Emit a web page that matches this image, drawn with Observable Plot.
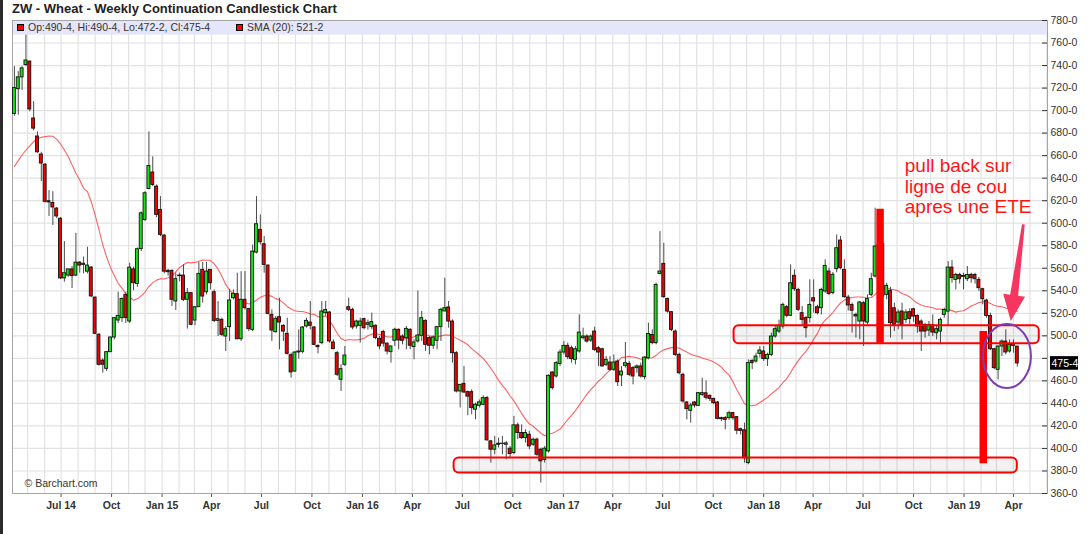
<!DOCTYPE html>
<html>
<head>
<meta charset="utf-8">
<script src="https://cdn.jsdelivr.net/npm/d3@7"></script>
<script src="https://cdn.jsdelivr.net/npm/@observablehq/plot@0.6"></script>
<style>
html,body{margin:0;padding:0;background:#fff;}
#wrap{position:relative;width:1089px;height:534px;overflow:hidden;font-family:"Liberation Sans",Arial,sans-serif;}
#chart{position:absolute;left:0;top:0;}
#title{position:absolute;left:12px;top:2px;font-weight:bold;font-size:13px;line-height:13px;color:#222;white-space:nowrap;}
.leg{position:absolute;top:21px;font-size:10.5px;line-height:12px;color:#333;display:flex;align-items:center;white-space:nowrap;}
.sq{width:5px;height:5px;background:#f00;border:1px solid #000;margin-right:4px;}
#edge{position:absolute;left:0;top:0;width:3px;height:534px;background:#2b2b2b;}
</style>
</head>
<body>
<div id="wrap">
  <div id="chart"></div>
  <div id="title"></div>
  <div class="leg" id="leg1" style="left:17px"><span class="sq"></span><span class="txt"></span></div>
  <div class="leg" id="leg2" style="left:236px"><span class="sq"></span><span class="txt"></span></div>
  <div id="edge"></div>
</div>
<script>
// ---------------- data (weekly candles, ZW wheat continuation) ----------------
const opens = [
697,719,729.5,740.5,743.5,693,677,661,652,619.5,
618,613,604,551,553.5,559,553.5,565,563,557,
560.6,534,501,478,470.7,485.5,498.5,513.6,515.7,536.4,
512.7,559,546,577,602.9,630.4,645,632.5,611.8,589,
557.7,557.7,530.5,553.5,553.5,532,537.9,513.6,525.4,558.6,
538.7,558.6,538.7,513.3,514.2,499.4,507.7,533.4,537,497,
532,523.7,505.3,573.9,594.1,581.3,562.4,518.6,503.2,516.6,
508.9,501.8,482.8,468.3,485.2,485.8,508.3,511.8,507.4,491.1,
493.5,520.1,520.7,494.1,484.6,461,474.3,525.4,523.1,508.3,
508.9,514.8,509.8,507.7,508.9,497.4,503.4,493.1,485.5,495.6,
505.4,499.4,497.9,505.4,490,495,500,513.3,498,491.2,
495.6,507.7,521.6,525.2,512.7,484.6,450.6,457.4,450,450,
434.4,437.9,438.8,444.7,406.3,398.9,404.2,404.2,403.3,399.8,
395.9,420.5,413.7,409.2,412.2,403.3,407.8,398.9,389.8,397.4,
467.4,463.9,475.1,485.2,491.1,489,478.7,486.1,497.9,499.4,
495.8,503.8,489,488.1,474.2,476.3,469.8,477.2,464.8,473.3,
475.1,471.3,471.3,472.8,463.3,480.1,500.8,493.5,555,563.9,
532.8,521,503.8,483.1,465.4,440.8,433.4,440.8,437.8,447.6,
449,446.7,444,440.8,426.9,426.9,426.9,431.4,427.8,417.1,
416.1,387,477.8,477.2,484,486.1,479.3,483.1,499.4,503.8,
508.3,525.4,517.8,553.3,540.8,520.1,515.7,515.7,533.4,525.4,
524.5,539.4,557.1,537.9,559.2,584.6,558.6,534,527.3,518.6,
512.7,529,511.8,536.4,552.7,579,581.4,536.4,540,524.5,
511.8,521.6,514.2,521,523.6,517.7,512.7,509.7,504.7,509.7,
502.3,503.8,518.6,521.5,560.6,549.7,554.1,553.2,550.3,554.1,
554.1,549.7,541.4,531.3,517.7,488.1,469.8,490.5,494.9,486.1,
492.9,490.5];
const highs = [
739,734.6,739,767,744,708,681,663,653,629,
628,614,605,583.7,559,561.5,591,566,570,578.7,
561.5,534.3,502,479.5,486,499,516,538.8,533.4,538.8,
564.5,561,578,610,628,681,659,634,623.6,590,
559,558.6,555.6,555.6,563,542,538.4,526,565.1,565.1,
565.1,558.6,540.8,530.5,515.7,508.3,540.8,540.8,555.6,557,
557,524.5,580.7,623.6,607.4,588.1,563,523,517.2,533.4,
509.8,515.7,484.6,486.1,505.3,508.3,515.7,530.5,508.3,492,
530.5,530.5,521.6,496.5,486.1,474.3,490.5,533.4,524.5,514,
515.7,515.7,514,520.1,509.8,499.4,505,493.7,490.6,506.8,
506,500.9,508.3,506.2,496.5,539.7,521.6,514.2,499.4,500,
508.3,524.5,551.2,530.5,514.2,486.1,456.5,472.8,451,452.1,
440.3,443,446.8,446.2,407.2,410.7,409.2,410.7,406,401.8,
428.5,422.6,421,416.6,415.1,409.2,409.2,400.3,401.8,465.4,
468.3,477.2,487.6,495,493.5,491,490.5,518.6,506.8,500.9,
500.9,507.7,490.5,489,481.6,481.6,483.1,478.7,472.8,494.1,
477.2,472.8,474.2,475.7,481.6,511.2,505.3,546.7,592.5,582.2,
533.4,521.5,505.3,484.6,466.8,441.7,440.2,441.7,449.7,462.4,
460,447.6,444.6,441.7,427.8,428.4,433,432,428.4,418,
422.5,478.7,478.7,484.6,490.5,490.5,484.6,502.4,508.3,514,
529,527,563,558.6,542.3,526,517.2,549.7,549.7,527.2,
542.3,567.5,560.1,556.2,589.6,588.2,567.5,536,529,520.1,
530.5,530.5,536.4,555.6,613.3,588,583,546.7,543,529,
523,529,523,524,524.5,518.6,514.2,511.2,512.7,518.6,
508.3,515.7,524.5,565.9,566.8,555.6,555.6,555.6,561.5,555.6,
555.5,552,542.3,532.5,520.1,489,491.1,496.4,505.3,496.4,
496.4,490.5];
const lows = [
695,696,718,739,699,682,662,637,618,606,
598,604,550,547.6,552,542,552.6,555.6,555,555,
534,501.2,473,466.9,468.4,485,496.5,511,511.8,511,
511,540,543,575,601.5,629.5,632.5,605,588,555,
553,526,522.5,548,530.5,506,508.9,508.9,525.4,529,
536.4,540.8,511.8,499.4,499.4,486.1,495,531.9,496.4,495,
523,503.8,503.8,572.8,580.7,555.6,518.6,495,502.4,487.6,
495,483.1,462.4,467.5,479.3,484,506.8,505.3,491.1,484,
492,517.2,493.5,487.6,463.9,450.6,472.8,521.6,505.3,506,
493.5,505.3,505,505.4,496.5,487.6,490,483.1,475.8,490.6,
487.6,492,487.6,487.6,478.7,493.5,495,486.1,483.1,488,
487.6,495,521.6,506.8,475.8,449.2,435.9,448.6,429,430,
425.5,436,438,406.3,387,394.4,400.3,394.4,390,391.5,
394.4,407.8,407.8,404.8,398.9,401.8,393,369.3,387,395.9,
452,462.4,472.8,483.1,478.7,475.7,474.2,484.6,496.4,493.5,
494.1,486.1,472.8,472.2,472.8,468.3,468.3,455,455,471.3,
463.9,456.5,466.8,462.4,460.9,478.7,492,492,554.1,533.4,
520.1,503.8,481.6,465.4,440.2,425.4,422.5,435.8,437.2,446.1,
443,441.7,438.7,425.4,423.9,416.5,425,425,412.2,412,
387,385.5,470,475.7,480.2,477.2,472.8,481.6,498,502,
506,516,517,539.4,521.6,508.3,498,511.2,520.1,518.6,
518.6,537.8,535.8,536.4,556,558.6,533.4,522,502.4,498,
496.5,490.5,508.3,534.9,551.2,570,533,532,498,503.8,
505.3,496.4,511.2,510,512,502.3,486.1,497.9,499.4,499.4,
496.4,492,515.7,508.3,546.7,540.8,546,540.8,548.2,546.7,
546,539.3,527.5,515.7,486.9,469.8,460.9,481.6,483.1,484.6,
484.6,472.25];
const closes = [
720,729.5,737.5,744.5,701,684,663,653,619,618.5,
614,606,551,555.6,559,553,565,562.4,564,562.4,
535,501.8,474.3,474.3,485.5,498.5,515.7,517.7,532.8,515.7,
560.6,546.7,576.9,608.8,626.6,650.8,634,607.4,589.6,557,
556.5,532,550.3,553,532,537.9,509.8,525.4,555,534.9,
557.1,546.7,513.3,514.8,500.9,505.9,531.4,537.3,497,532,
524.5,505.9,574.8,599.1,583.1,563,519.5,504.7,515.1,511.8,
503.8,484,467.5,485.2,486.1,507.4,513.3,508.9,492,489.9,
521.6,523,495,488.2,465.4,470.4,482.5,523.1,507.4,512.7,
512.7,506.8,511.2,512.2,498,490.6,493.1,486.1,490.6,505.4,
495.9,495.6,506.2,491.2,494.1,500.3,515.7,492,491.2,498.5,
507.7,523.1,524.5,512.7,484.6,450.6,456.5,449.7,446,435.8,
438.8,440.9,444.7,407.2,398.9,402.7,403.3,404,404.5,395,
420.5,413.7,409.2,413.7,401.8,407.8,394.4,388.5,399.8,464.5,
453.5,475.7,485.2,491.1,481,479.3,488.1,502.9,499.4,494.9,
499.4,487.5,485.2,472.8,478.7,469.8,476.3,458.8,468.3,475.7,
465.4,463.9,472.8,463.9,480.7,501.7,493.5,545.2,557.1,534.3,
521.5,505.3,483.1,466.8,441.7,434.9,438.1,438.1,449.1,449.1,
445,444,440.2,426.3,426,425.4,431.3,426.9,415.8,415.6,
391.4,475.8,475.7,481.6,487,479.3,483.1,499.4,505.9,508.9,
527.5,517.8,546.7,541.4,523.1,514.2,506.8,527.5,530.5,520.1,
540.8,562.1,537.3,554.2,577.8,560.1,534.3,527,522.3,517.2,
529.6,512.7,532.6,550.3,579.3,581,534.9,544.4,511.2,509.7,
520.7,509.7,520.7,515,517.1,508.3,503.8,503.8,509.7,502.9,
505.9,514.2,523,560.6,551.2,554.1,550.3,552.2,554.1,551.2,
550.3,542.3,532.5,517.7,488.1,471.3,490.5,494.9,485.2,492,
491.1,475.5];
// SMA(20) for the first 19 weeks (its history lies before the visible window)
const smaHead = [650.3,655.6,660.6,665,668.6,672.5,674.8,676.3,676.9,677.5,677.2,674.5,670.4,665,659.2,651.8,644.4,638.4,631];
const firstWeek = "2014-04-07";
const xDomain = ["2014-04-03T12:00Z","2019-06-02T00:00Z"];
const yTicks = [360,380,400,420,440,460,480,500,520,540,560,580,600,620,640,660,680,700,720,740,760,780];
const xTickDates = ["2014-07-01","2014-10-01","2015-01-01","2015-04-01","2015-07-01","2015-10-01","2016-01-01","2016-04-01","2016-07-01","2016-10-01","2017-01-01","2017-04-01","2017-07-01","2017-10-01","2018-01-01","2018-04-01","2018-07-01","2018-10-01","2019-01-01","2019-04-01"];
const xTickLabels = ["Jul 14","Oct","Jan 15","Apr","Jul","Oct","Jan 16","Apr","Jul","Oct","Jan 17","Apr","Jul","Oct","Jan 18","Apr","Jul","Oct","Jan 19","Apr"];
const titleText = "ZW - Wheat - Weekly Continuation Candlestick Chart";
const legendOHLC = "Op:490-4, Hi:490-4, Lo:472-2, Cl:475-4";
const legendSMA = "SMA (20): 521-2";
const lastPriceText = "475-4";
// annotations (in data space)
const zones = [
  {x1:"2016-06-16", x2:"2019-04-08", y1:378.1, y2:391.5},
  {x1:"2017-11-08", x2:"2019-05-18", y1:492.9, y2:508.9}
];
const bars = [
  {date:"2018-08-01", y1:493.5, y2:612.4},
  {date:"2019-02-05", y1:386.4, y2:503.8}
];
const ring = {date:"2019-03-21", price:481.6};
const pointer = {from:"2019-04-20", fromY:598.5, to:"2019-03-28", toY:512.7};
const note = {date:"2018-09-15", price:658, text:"pull back sur\nligne de cou\napres une ETE"};

// ---------------- build ----------------
const DAY = 864e5;
const t0 = Date.parse(firstWeek + "T00:00Z");
const day = s => new Date(s + "T00:00Z");
const candles = closes.map((c, i) => ({
  date: new Date(t0 + i * 7 * DAY), open: opens[i], high: highs[i], low: lows[i], close: c
}));
const sma = candles.map((d, i) => ({
  date: d.date,
  value: i < smaHead.length ? smaHead[i] : d3.mean(closes.slice(i - 19, i + 1))
}));
const xs = xDomain.map(s => new Date(s));
const monthGrid = d3.utcMonth.range(xs[0], xs[1]);
const xTicks = xTickDates.map(day);
const labelMap = new Map(xTicks.map((d, i) => [+d, xTickLabels[i]]));
const GREEN = "#19e019", RED = "#f20000";
const FONT = "Liberation Sans, Arial, sans-serif";
const tickLen = 9 * DAY; // inward tick marks on the price axis

const chart = Plot.plot({
  width: 1089, height: 534,
  marginLeft: 12, marginRight: 42, marginTop: 20, marginBottom: 41,
  style: {background: "transparent", fontFamily: FONT, fontSize: "10.5px", color: "#333"},
  x: {type: "utc", domain: xs, ticks: xTicks, tickFormat: d => labelMap.get(+d), tickSize: 4, tickPadding: 4.5, label: null},
  y: {domain: [360, 780], axis: "right", ticks: yTicks, tickFormat: d => d === 480 ? "" : d + "-0", tickSize: 0, tickPadding: 3, label: null},
  marks: [
    Plot.ruleX(monthGrid, {stroke: "#e2e2e2", strokeWidth: 1.2}),
    Plot.ruleY(yTicks, {stroke: "#e2e2e2", strokeWidth: 1.2}),
    Plot.rect([0], {x1: () => xs[0], x2: () => xs[1], y1: () => 767, y2: () => 780, fill: "#e6e6fa"}),
    Plot.frame({stroke: "#a5a5a5"}),
    Plot.ruleY(yTicks, {x1: () => new Date(+xs[1] - tickLen), x2: () => xs[1], stroke: "#333"}),
    Plot.line(sma, {x: "date", y: "value", stroke: "#ff3b3b", strokeOpacity: 0.8, strokeWidth: 1.1}),
    Plot.ruleX(candles, {x: "date", y1: "low", y2: "high", stroke: "#4a4a4a", strokeWidth: 1}),
    Plot.rect(candles, {
      x1: d => new Date(+d.date - 2.7 * DAY), x2: d => new Date(+d.date + 2.7 * DAY),
      y1: d => Math.min(d.open, d.close), y2: d => Math.max(d.open, d.close),
      fill: d => d.close >= d.open ? GREEN : RED, stroke: "#111", strokeWidth: 0.9
    }),
    Plot.rect(zones, {
      x1: d => day(d.x1), x2: d => day(d.x2), y1: "y1", y2: "y2",
      rx: 5, fill: "#000", fillOpacity: 0.05, stroke: "#ff0000", strokeWidth: 2
    }),
    Plot.ruleX(bars, {x: d => day(d.date), y1: "y1", y2: "y2", stroke: "#ff0000", strokeWidth: 7.5}),
    Plot.text([note], {
      x: d => day(d.date), y: "price", text: "text",
      textAnchor: "start", lineAnchor: "top", fontSize: 19, lineHeight: 1.08, fill: "#ff1414", fontFamily: FONT
    }),
    Plot.text(["© Barchart.com"], {frameAnchor: "bottom-left", dx: 12, dy: -7, lineAnchor: "bottom", textAnchor: "start", fontSize: 10.5, fill: "#333"})
  ]
});

// extra annotation shapes positioned through the chart's own scales
const sx = chart.scale("x"), sy = chart.scale("y");
const X = d => sx.apply(d), Y = v => sy.apply(v);
const svg = d3.select(chart.tagName.toLowerCase() === "svg" ? chart : chart.querySelector("svg"));
svg.selectAll('[aria-label="x-axis"] text, [aria-label="x-axis tick label"] text').attr("font-weight", "bold");
svg.selectAll('[aria-label="x-axis"], [aria-label="x-axis tick"]').attr("stroke", "#555");
// ellipse
svg.append("ellipse").attr("cx", X(day(ring.date))).attr("cy", Y(ring.price)).attr("rx", 24).attr("ry", 32)
  .attr("fill", "none").attr("stroke", "#7b3db0").attr("stroke-width", 2);
// arrow
{
  const x1 = X(day(pointer.from)), y1 = Y(pointer.fromY), x2 = X(day(pointer.to)), y2 = Y(pointer.toY);
  const dx = x2 - x1, dy = y2 - y1, L = Math.hypot(dx, dy);
  const ux = dx / L, uy = dy / L, px = -uy, py = ux;
  const hl = 26, hw = 11, s0 = 1.4, s1 = 4;
  const bx = x2 - ux * hl, by = y2 - uy * hl;
  const pts = [[x1 + px*s0, y1 + py*s0], [bx + px*s1, by + py*s1], [bx + px*hw, by + py*hw], [x2, y2],
               [bx - px*hw, by - py*hw], [bx - px*s1, by - py*s1], [x1 - px*s0, y1 - py*s0]];
  svg.append("path").attr("d", "M" + pts.map(p => p.join(",")).join("L") + "Z").attr("fill", "#f6365f");
}
// last-price label
{
  const y = Y(closes[closes.length - 1]);
  const x = X(xs[1]) + 3;
  svg.append("rect").attr("x", x).attr("y", y - 6.8).attr("width", 28).attr("height", 13.6).attr("fill", "#000");
  svg.append("text").attr("x", x + 1.5).attr("y", y).attr("dy", "0.35em").attr("text-anchor", "start")
    .attr("fill", "#fff").attr("font-size", 10.5).attr("font-family", FONT).text(lastPriceText);
}
document.getElementById("chart").appendChild(chart);
document.getElementById("title").textContent = titleText;
document.querySelector("#leg1 .txt").textContent = legendOHLC;
document.querySelector("#leg2 .txt").textContent = legendSMA;
</script>
</body>
</html>
